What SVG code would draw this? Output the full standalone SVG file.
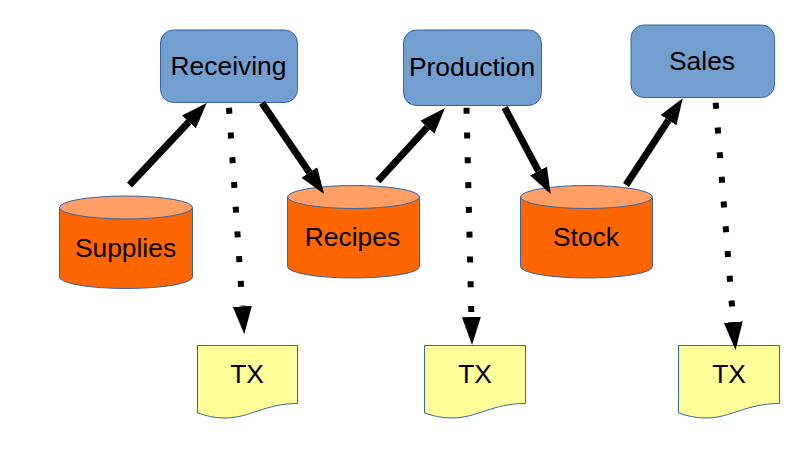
<svg xmlns="http://www.w3.org/2000/svg" width="796" height="454" viewBox="0 0 796 454">
<style>
text{font-family:"Liberation Sans",Arial,sans-serif;font-size:26.4px;fill:#000;text-anchor:middle}
.box{fill:#729fcf;stroke:#3465a4;stroke-width:1}
.body{fill:#ff6600;stroke:#3465a4;stroke-width:1}
.lid{fill:#ff9f66;stroke:#3465a4;stroke-width:1}
.doc{fill:#ffff99;stroke:#3465a4;stroke-width:1}
.solid{fill:none;stroke:#000;stroke-width:7;marker-end:url(#head)}
.dot{fill:none;stroke:#000;stroke-width:6;stroke-dasharray:6 18.8;marker-end:url(#head2)}
</style>
<defs>
<marker id="head" markerUnits="userSpaceOnUse" markerWidth="28" markerHeight="20" refX="0" refY="10" orient="auto" viewBox="0 0 28 20"><path d="M0 0.5L26 10L0 19.5Z" fill="#000"/></marker>
<marker id="head2" markerUnits="userSpaceOnUse" markerWidth="30" markerHeight="20" refX="0" refY="10" orient="auto" viewBox="0 0 30 20"><path d="M0 0.5L28 10L0 19.5Z" fill="#000"/></marker>
</defs>
<g id="receiving"><rect class="box" x="160.5" y="30" width="137" height="72.5" rx="13"/><text x="228.5" y="75">Receiving</text></g>
<g id="production"><rect class="box" x="403.5" y="30" width="138" height="75.5" rx="13"/><text x="472" y="76">Production</text></g>
<g id="sales"><rect class="box" x="631" y="25" width="143.5" height="72.5" rx="13"/><text x="702" y="70">Sales</text></g>
<g id="supplies"><path class="body" d="M59.5 207.5V277A66.5 11.5 0 0 0 192.5 277V207.5Z"/><ellipse class="lid" cx="126" cy="207.5" rx="66.5" ry="11.5"/><text x="125.5" y="257">Supplies</text></g>
<g id="recipes"><path class="body" d="M287.5 197V266.5A66 11.5 0 0 0 419.5 266.5V197Z"/><ellipse class="lid" cx="353.5" cy="197" rx="66" ry="11.5"/><text x="352.5" y="246">Recipes</text></g>
<g id="stock"><path class="body" d="M520.5 197V266.5A66 11.5 0 0 0 652.5 266.5V197Z"/><ellipse class="lid" cx="586.5" cy="197" rx="66" ry="11.5"/><text x="586" y="246">Stock</text></g>
<g id="tx1"><path class="doc" d="M197.5 345.5H297.5V403.5C265 403.5 250 418 225 418C214 418 207 416 197.5 413Z"/><text x="247" y="383">TX</text></g>
<g id="tx2"><path class="doc" d="M424.5 345.5H525.5V403.5C492 403.5 477 418 452 418C441 418 434 416 424.5 413Z"/><text x="475" y="383">TX</text></g>
<g id="tx3"><path class="doc" d="M678.5 345.5H779.5V403.5C746 403.5 731 418 706 418C695 418 688 416 678.5 413Z"/><text x="729" y="383">TX</text></g>
<g id="connectors">
<line class="solid" x1="129.5" y1="185" x2="188.9" y2="121.9"/>
<line class="solid" x1="262" y1="103" x2="309.4" y2="172.5"/>
<line class="solid" x1="378" y1="181" x2="427.4" y2="127.2"/>
<line class="solid" x1="504.7" y1="107.7" x2="538.5" y2="171.1"/>
<line class="solid" x1="626" y1="185" x2="668.5" y2="120.1"/>
<line class="dot" x1="229" y1="107.7" x2="242.4" y2="306.4"/>
<line class="dot" x1="466.5" y1="107.7" x2="471.4" y2="317"/>
<line class="dot" x1="715.7" y1="102.7" x2="733.3" y2="322.1"/>
</g>
</svg>
